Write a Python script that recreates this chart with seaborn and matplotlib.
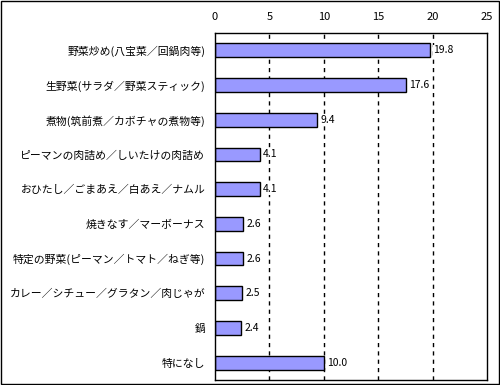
import matplotlib
matplotlib.use("Agg")
import matplotlib.pyplot as plt
import seaborn as sns
import pandas as pd
import numpy as np
from matplotlib.patches import Rectangle

categories = ["野菜炒め(八宝菜／回鍋肉等)", "生野菜(サラダ／野菜スティック)", "煮物(筑前煮／カボチャの煮物等)",
              "ピーマンの肉詰め／しいたけの肉詰め", "おひたし／ごまあえ／白あえ／ナムル", "焼きなす／マーボーナス",
              "特定の野菜(ピーマン／トマト／ねぎ等)", "カレー／シチュー／グラタン／肉じゃが", "鍋", "特になし"]
values = [19.8, 17.6, 9.4, 4.1, 4.1, 2.6, 2.6, 2.5, 2.4, 10.0]
xticks = [0, 5, 10, 15, 20, 25]

sns.set_theme(style="white")
plt.rcParams['font.family'] = ['Noto Sans CJK JP', 'DejaVu Sans']

df = pd.DataFrame({"cat": categories, "val": values})
fig = plt.figure(figsize=(5.0, 3.85), dpi=100)
ax = fig.add_axes([215/500, 1 - 380/385, 272/500, 347/385])
sns.barplot(data=df, x="val", y="cat", ax=ax, color="#9999FF", edgecolor="black",
            linewidth=1, width=0.4, saturation=1)
ax.set_xlim(0, 25)
ax.set_ylim(len(categories) - 0.5, -0.5)
ax.set_xticks(xticks)
ax.xaxis.tick_top()
ax.tick_params(axis='x', length=0, labelsize=8, pad=8, colors='black')
ax.tick_params(axis='y', which='major', length=0, labelsize=7.8, pad=7, colors='black')
ax.set_yticks(np.arange(0.5, len(categories) - 1, 1), minor=True)
ax.tick_params(axis='y', which='minor', direction='in', length=4, width=1, color='black')
for t in xticks[1:-1]:
    ax.axvline(t, color='black', linestyle=(0, (3, 3)), linewidth=1, zorder=0)
ax.set_xlabel("")
ax.set_ylabel("")
for s in ax.spines.values():
    s.set_color('black')
    s.set_linewidth(1)
for i, v in enumerate(values):
    ax.text(v + 0.28, i, f"{v:.1f}", va='center', ha='left', fontsize=7.5, color='black',
            bbox=dict(facecolor='white', edgecolor='none', pad=0.5))
fig.patches.append(Rectangle((0.002, 0.003), 0.995, 0.994, transform=fig.transFigure,
                             fill=False, edgecolor='black', linewidth=1))
fig.savefig("out.png", dpi=100)
